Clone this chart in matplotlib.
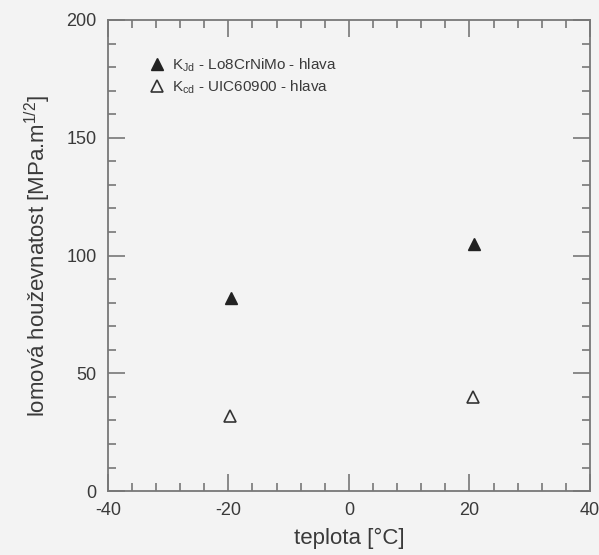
import matplotlib
matplotlib.use("Agg")
import matplotlib.pyplot as plt
from matplotlib.ticker import MultipleLocator

# Data
temp_jd = [-19.5, 20.8]
k_jd = [82, 105]
temp_cd = [-19.7, 20.6]
k_cd = [32, 40]
label_jd = r"K$_{\mathrm{Jd}}$ - Lo8CrNiMo - hlava"
label_cd = r"K$_{\mathrm{cd}}$ - UIC60900 - hlava"

bg = "#f3f3f3"
axcol = "#777777"
txtcol = "#3a3a3a"

plt.rcParams['font.family'] = ['Liberation Sans', 'DejaVu Sans']
plt.rcParams['axes.unicode_minus'] = False
plt.rcParams['mathtext.fontset'] = 'custom'
plt.rcParams['mathtext.rm'] = 'Liberation Sans'
fig = plt.figure(figsize=(5.99, 5.55), dpi=100, facecolor=bg)
ax = fig.add_axes([0.18, 0.115, 0.805, 0.849], facecolor=bg)

ax.plot(temp_jd, k_jd, linestyle='none', marker='^', markersize=9,
        color='#222222', label=label_jd)
ax.plot(temp_cd, k_cd, linestyle='none', marker='^', markersize=9,
        markerfacecolor='none', markeredgecolor='#333333', markeredgewidth=1.2,
        label=label_cd)

ax.set_xlim(-40, 40)
ax.set_ylim(0, 200)
ax.xaxis.set_major_locator(MultipleLocator(20))
ax.xaxis.set_minor_locator(MultipleLocator(4))
ax.yaxis.set_major_locator(MultipleLocator(50))
ax.yaxis.set_minor_locator(MultipleLocator(10))
ax.tick_params(which='both', direction='in', top=True, right=True,
               color=axcol, labelcolor=txtcol, labelsize=13, width=1.2)
ax.tick_params(which='major', length=12, pad=8)
ax.tick_params(which='minor', length=6)
for s in ax.spines.values():
    s.set_color(axcol)
    s.set_linewidth(1.3)

ax.set_xlabel("teplota [°C]", fontsize=16, color=txtcol, labelpad=6)
ax.set_ylabel("lomová houževnatost [MPa.m$^{1/2}$]", fontsize=16, color=txtcol, labelpad=10)

leg = ax.legend(loc='upper left', bbox_to_anchor=(0.06, 0.945), frameon=False,
                fontsize=11, handletextpad=0.4, labelspacing=0.25,
                handlelength=1.2, borderaxespad=0.3)
for t in leg.get_texts():
    t.set_color(txtcol)

fig.savefig("out.png", dpi=100, facecolor=bg)
